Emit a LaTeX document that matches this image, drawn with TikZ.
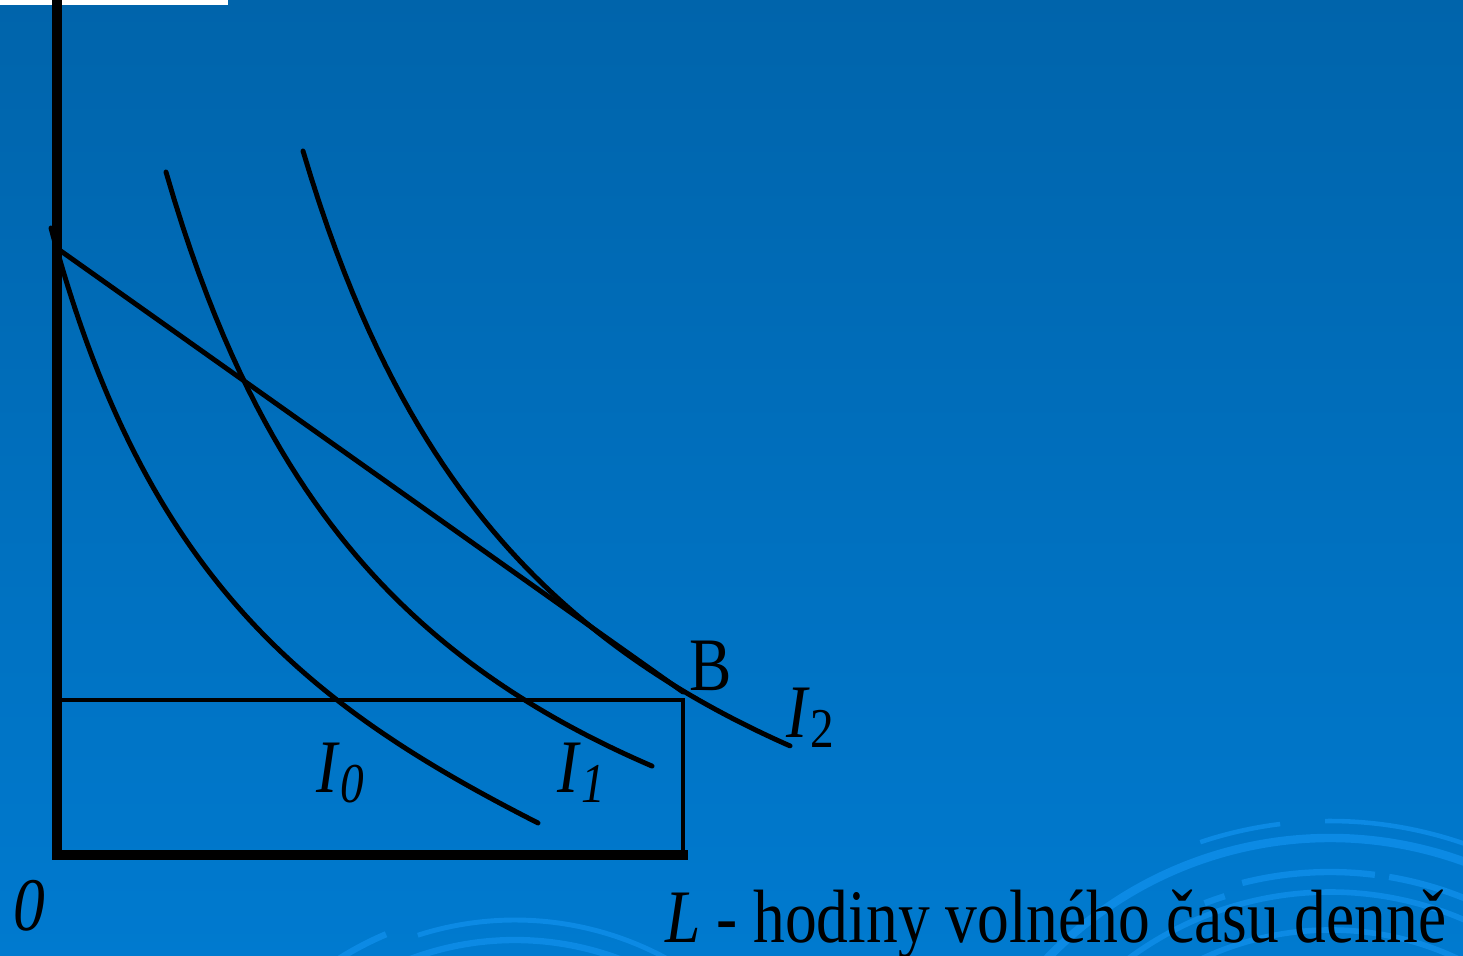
\documentclass[tikz,border=0pt]{standalone}
\usepackage{fontspec}
\setmainfont[FakeStretch=0.84]{Liberation Serif}
\usetikzlibrary{positioning}
\definecolor{bgtop}{HTML}{0064AB}
\definecolor{bgbot}{HTML}{007ACF}
\definecolor{swirl}{HTML}{0C8AE4}

\begin{document}
\begin{tikzpicture}[x=0.1mm, y=-0.1mm,
      axis/.style={line width=2.6pt, line cap=rect},
      frame/.style={line width=1.1pt},
      curve/.style={line width=1.4pt, line cap=round},
      deco/.style={draw=swirl, line width=#1},
      deco/.default=1.6pt,
      lbl/.style={inner sep=0pt, font=\fontsize{21.5}{24}\selectfont},
      sub/.style={font=\fontsize{16}{18}\selectfont\itshape}]

    \useasboundingbox (0, 0) rectangle (1463, 955);
    \shade[top color=bgtop, bottom color=bgbot] (0, 0) rectangle (1463, 955);
    \fill[white] (0, 0) rectangle (228, 5);

    % background arcs
    \begin{scope}
      \clip (0, 0) rectangle (1463, 955);
      \draw[deco=1.3pt] (1330, 1230) ++(251.5:409) arc (251.5:263:409);
      \draw[deco=1.3pt] (1330, 1230) ++(269.3:409) arc (269.3:292:409);
      \draw[deco=2.4pt] (1330, 1230) ++(215:392) arc (215:292:392);
      \draw[deco=1.8pt] (1330, 1230) ++(249:350) arc (249:252.5:350);
      \draw[deco=1.8pt] (1330, 1230) ++(255.8:358) arc (255.8:277.2:358);
      \draw[deco=1.8pt] (1330, 1230) ++(279.5:358) arc (279.5:300:358);
      \draw[deco=1.6pt] (1330, 1230) ++(205:338) arc (205:300:338);
      \draw[deco=1.6pt] (1330, 1230) ++(215:300) arc (215:300:300);
      \draw[deco=1.4pt] (515, 1238) ++(252.2:318) arc (252.2:300:318);
      \draw[deco=1.8pt] (515, 1238) ++(235:298) arc (235:305:298);
      \draw[deco=1.8pt] (515, 1238) ++(237:330) arc (237:247:330);
    \end{scope}

    % axes and frame
    \coordinate (O) at (57, 855);
    \coordinate (top) at (57, 0);
    \coordinate (Lend) at (683, 855);
    \coordinate (B) at (683, 692);
    \coordinate (Y) at (57, 700);
    \coordinate (budget) at (58, 249);
    \draw[axis] (top) -- (O) -- (Lend);
    \draw[frame] (Y) -- (683, 700) -- (Lend);

    % budget line
    \draw[curve] (budget) -- (B);

    % indifference curves
    \coordinate (i0s) at (51, 228);
    \coordinate (i0e) at (538, 823);
    \draw[curve] (i0s) .. controls (145.6, 582) and (311.4, 707.5) .. (i0e);
    \draw[curve] plot[domain=166:652, samples=60] (\x, {1089.5 - 2427.7/((\x + 98.6)/100)});
    \draw[curve] plot[domain=303:790, samples=60] (\x, {1083.7 - 2579/((\x - 26.5)/100)});

    % labels
    \node[lbl, anchor=base west] (lblB) at (689, 690) {B};
    \node[lbl, anchor=base west] (lblI2) at (786, 737)
      {\textit{I}\raisebox{-3pt}{\fontsize{16}{18}\selectfont 2}};
    \node[lbl, anchor=base west] (lblI0) at (316, 792)
      {\textit{I}\raisebox{-3pt}{\fontsize{16}{18}\selectfont\itshape 0}};
    \node[lbl, anchor=base west] (lblI1) at (557, 792)
      {\textit{I}\raisebox{-3pt}{\fontsize{16}{18}\selectfont\itshape 1}};
    \node[lbl, anchor=base west] (lblO) at (13, 930) {\textit{0}};
    \node[lbl, anchor=base east] (lblL) at (1447, 942)
      {\textit{L} - hodiny volného času denně};
  \end{tikzpicture}
\end{document}
